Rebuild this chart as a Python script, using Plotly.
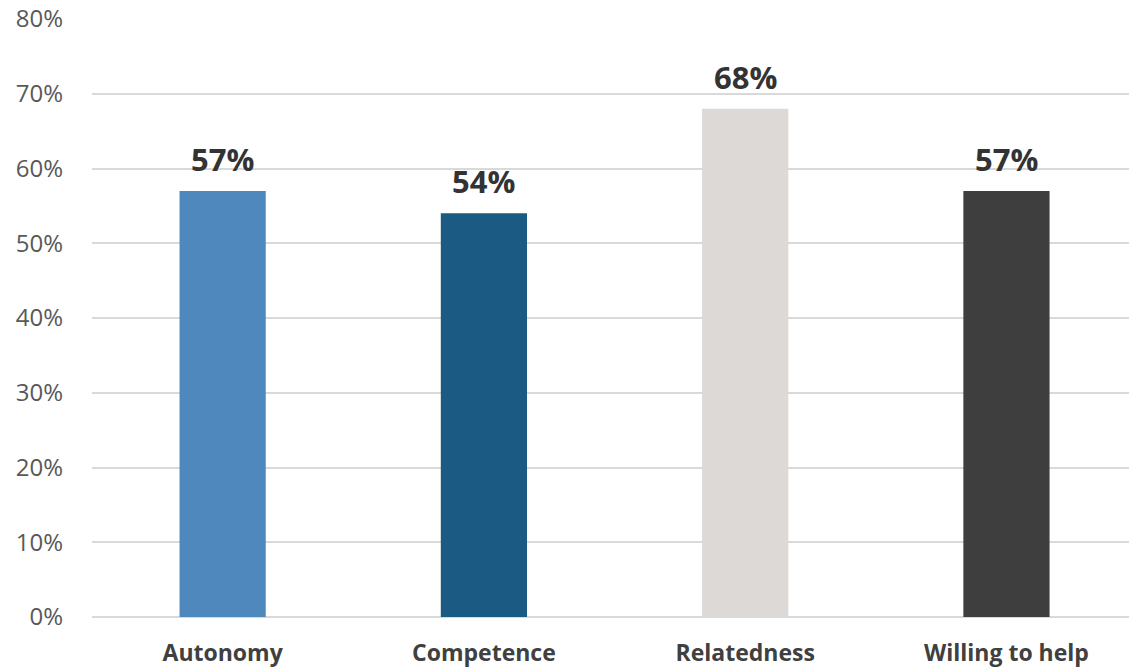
import plotly.graph_objects as go

categories = ["Autonomy", "Competence", "Relatedness", "Willing to help"]
values = [57, 54, 68, 57]
colors = ["#4e88bd", "#1b5a82", "#dcd9d7", "#3e3e3e"]
y_ticks = [0, 10, 20, 30, 40, 50, 60, 70, 80]

fig = go.Figure(
    go.Bar(
        x=categories,
        y=values,
        marker=dict(color=colors, line=dict(width=0)),
        hoverinfo="x+y",
    )
)

# value labels sit a fixed distance above each bar
for cat, val in zip(categories, values):
    fig.add_annotation(
        x=cat,
        y=val,
        text=f"{val}%",
        showarrow=False,
        yanchor="middle",
        yshift=32,
        font=dict(family="Open Sans", size=31, color="#333333", weight="bold"),
    )

fig.update_layout(
    width=1129,
    height=670,
    margin=dict(l=92, r=0, t=19, b=53),
    paper_bgcolor="white",
    plot_bgcolor="white",
    bargap=0.67,
    showlegend=False,
    xaxis=dict(
        range=[-0.5, 3.469],
        showgrid=False,
        showline=False,
        zeroline=False,
        tickfont=dict(family="Open Sans", size=23, color="#404040", weight="bold"),
        ticklabelstandoff=20,
    ),
    yaxis=dict(
        range=[0, 80],
        tickvals=y_ticks,
        ticktext=[f"{t}%" for t in y_ticks],
        showgrid=True,
        gridcolor="#d9d9d9",
        gridwidth=2,
        zeroline=True,
        zerolinecolor="#d9d9d9",
        zerolinewidth=2,
        tickfont=dict(family="Open Sans", size=24, color="#595959"),
        ticklabelstandoff=28,
    ),
)

fig.write_html("out.html")
